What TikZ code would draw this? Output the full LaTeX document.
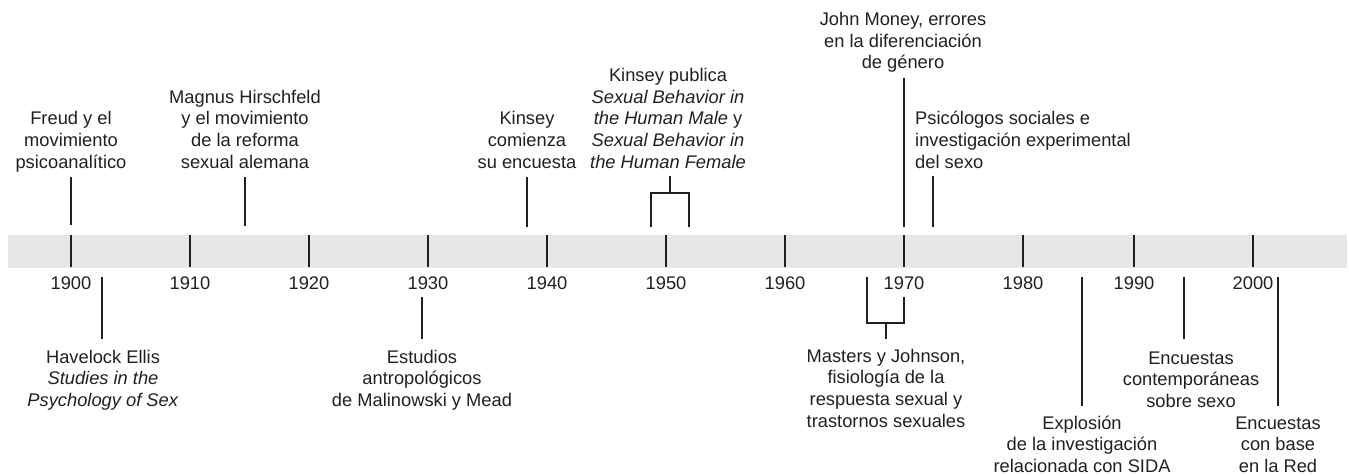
\documentclass[tikz,border=0pt]{standalone}
\usepackage{fontspec}
\setmainfont{Liberation Sans}
\definecolor{ink}{HTML}{231F20}
\definecolor{bandgray}{HTML}{E6E7E8}
\tikzset{
  lbl/.style={font=\fontsize{18.3}{21.7}\selectfont, text=ink, inner sep=0pt, align=center, anchor=base},
  lblleft/.style={lbl, align=left, anchor=base west},
  conn/.style={draw=ink, line width=1.1pt},
  tickmark/.style={draw=ink, line width=2.3pt},
}
\begin{document}
\begin{tikzpicture}[x=1pt,y=-1pt]
\useasboundingbox (0,0) rectangle (1349,476);
% band
\fill[bandgray] (8,235) rectangle (1347,268);
% ticks and years
\foreach \x/\yr in {71/1900,190/1910,309/1920,428/1930,547/1940,666/1950,785/1960,904/1970,1023/1980,1134/1990,1253/2000}{
  \coordinate (t\yr a) at (\x,235);
  \coordinate (t\yr b) at (\x,267);
  \draw[tickmark] (t\yr a) -- (t\yr b);
  \node[lbl] (y\yr) at (\x,289.3) {\yr};
}
% upper labels (anchor = baseline of last line)
\node[lbl] (freud) at (71,168.2) {Freud y el\\movimiento\\psicoanalítico};
\node[lbl] (magnus) at (245,168.2) {Magnus Hirschfeld\\y el movimiento\\de la reforma\\sexual alemana};
\node[lbl] (kcom) at (527,168.2) {Kinsey\\comienza\\su encuesta};
\node[lbl] (kpub) at (668,168.2) {Kinsey publica\\\textit{Sexual Behavior in}\\\textit{the Human Male} y\\\textit{Sexual Behavior in}\\\textit{the Human Female}};
\node[lbl] (money) at (903,68.9) {John Money, errores\\en la diferenciación\\de género};
\node[lblleft] (psico) at (915,168.2) {Psicólogos sociales e\\investigación experimental\\del sexo};
% lower labels
\node[lbl] (ellis) at (103,406.4) {Havelock Ellis\\\textit{Studies in the}\\\textit{Psychology of Sex}};
\node[lbl] (estud) at (422,406.4) {Estudios\\antropológicos\\de Malinowski y Mead};
\node[lbl] (masters) at (886,427.1) {Masters y Johnson,\\fisiología de la\\respuesta sexual y\\trastornos sexuales};
\node[lbl] (sida) at (1082,472.4) {Explosión\\de la investigación\\relacionada con SIDA};
\node[lbl] (contemp) at (1191,407.4) {Encuestas\\contemporáneas\\sobre sexo};
\node[lbl] (red) at (1278,472.4) {Encuestas\\con base\\en la Red};
% upper connectors
\coordinate (c1a) at (71,177);  \coordinate (c1b) at (71,225);
\draw[conn] (c1a) -- (c1b);
\coordinate (c2a) at (245,177); \coordinate (c2b) at (245,226);
\draw[conn] (c2a) -- (c2b);
\coordinate (c3a) at (527,177); \coordinate (c3b) at (527,227);
\draw[conn] (c3a) -- (c3b);
\coordinate (k1) at (651,227); \coordinate (k2) at (651,193);
\coordinate (k3) at (689,193); \coordinate (k4) at (689,227);
\coordinate (ks1) at (670,176); \coordinate (ks2) at (670,193);
\draw[conn] (k1) -- (k2) -- (k3) -- (k4);
\draw[conn] (ks1) -- (ks2);
\coordinate (c5a) at (904,78);  \coordinate (c5b) at (904,227);
\draw[conn] (c5a) -- (c5b);
\coordinate (c6a) at (933,176); \coordinate (c6b) at (933,227);
\draw[conn] (c6a) -- (c6b);
% lower connectors
\coordinate (d1a) at (102,277); \coordinate (d1b) at (102,339);
\draw[conn] (d1a) -- (d1b);
\coordinate (d2a) at (422,297); \coordinate (d2b) at (422,339);
\draw[conn] (d2a) -- (d2b);
\coordinate (m1) at (867,277); \coordinate (m2) at (867,323);
\coordinate (m3) at (904,323); \coordinate (m4) at (904,297);
\coordinate (ms1) at (886,323); \coordinate (ms2) at (886,339);
\draw[conn] (m1) -- (m2) -- (m3) -- (m4);
\draw[conn] (ms1) -- (ms2);
\coordinate (d4a) at (1082,277); \coordinate (d4b) at (1082,406);
\draw[conn] (d4a) -- (d4b);
\coordinate (d5a) at (1184,277); \coordinate (d5b) at (1184,339);
\draw[conn] (d5a) -- (d5b);
\coordinate (d6a) at (1278,277); \coordinate (d6b) at (1278,406);
\draw[conn] (d6a) -- (d6b);
\end{tikzpicture}
\end{document}
